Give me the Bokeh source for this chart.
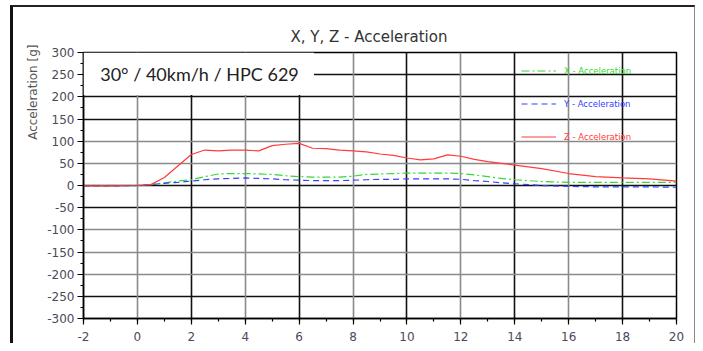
import math
from bokeh.plotting import figure
from bokeh.models import (ColumnDataSource, SingleIntervalTicker, FixedTicker, Grid,
                          Legend, LegendItem, Label, BoxAnnotation, Title, PrintfTickFormatter)
from bokeh.embed import file_html
from bokeh.resources import INLINE

# ---- data ----
time_s = [-2, -1, 0, 0.5, 1, 1.5, 2, 2.5, 3, 3.5, 4, 4.5, 5, 5.5, 6, 6.5, 7, 7.5, 8,
          8.5, 9, 9.5, 10, 10.5, 11, 11.5, 12, 12.5, 13, 13.5, 14, 15, 16, 17, 18, 19, 20]
x_acc = [-1, -1, 0, 2, 6, 10, 13, 20, 26, 27, 27, 26, 25, 22, 20, 19, 19, 19, 21,
         25, 26, 27, 28, 28, 28, 28, 27, 24, 20, 16, 13, 9, 7, 7, 7, 7, 7]
y_acc = [-1, -1, 0, 2, 5, 7, 10, 13, 15, 16, 17, 16, 15, 13, 12, 11, 11, 11, 12,
         13, 14, 14, 15, 15, 15, 15, 14, 11, 9, 6, 4, 0, -2, -3, -3, -3, -4]
z_acc = [-1, -1, 0, 2, 18, 44, 70, 80, 78, 80, 80, 78, 90, 93, 95, 84, 83, 80, 78,
         76, 71, 68, 62, 58, 60, 69, 66, 59, 54, 50, 46, 38, 27, 20, 17, 15, 10]

series_names = ["X - Acceleration", "Y - Acceleration", "Z - Acceleration"]
series_colors = ["#35d835", "#3340ff", "#ff3b3b"]
title_text = "X, Y, Z - Acceleration"
y_label_text = "Acceleration [g]"
note_text = "30° / 40km/h / HPC 629"

black_x_grid = [2, 6, 10, 14, 18]
grey_x_grid = [0, 4, 8, 12, 16]
black_y_grid = [250, 200, 150, 0, -50, -250]
grey_y_grid = [100, 50, -100, -150, -200]

src = ColumnDataSource(dict(t=time_s, x=x_acc, y=y_acc, z=z_acc))

p = figure(width=685, height=338, x_range=(-2, 20), y_range=(-300, 300),
           output_backend="svg", toolbar_location=None,
           min_border_left=70, min_border_right=22, min_border_top=45, min_border_bottom=27)
p.styles = {"margin-left": "10px", "margin-top": "5px",
            "border-left": "3px solid #111", "border-top": "2px solid #222",
            "border-right": "1px solid #888"}
p.background_fill_color = "white"
p.border_fill_color = "white"
p.outline_line_color = "black"
p.outline_line_width = 1.5

# title (top)
p.title.text = title_text
p.title.align = "left"
p.title.offset = 207
p.title.text_font = "DejaVu Sans"
p.title.text_font_size = "15px"
p.title.text_font_style = "normal"
p.title.text_color = "#333"
p.title.standoff = 13

# axes
label_color = "#4a4a58"
for ax in (p.xaxis[0], p.yaxis[0]):
    ax.axis_line_color = "black"
    ax.axis_line_width = 1.5
    ax.major_tick_line_color = "black"
    ax.minor_tick_line_color = "black"
    ax.major_tick_out = 6
    ax.major_tick_in = 0
    ax.minor_tick_out = 3
    ax.minor_tick_in = 0
    ax.major_tick_line_width = 1.2
    ax.minor_tick_line_width = 1.2
    ax.major_label_text_font = "DejaVu Sans"
    ax.major_label_text_font_size = "12px"
    ax.major_label_text_color = label_color
    ax.formatter = PrintfTickFormatter(format="%d")
p.xaxis[0].major_label_standoff = 7
p.yaxis[0].major_label_standoff = 3
p.xaxis[0].ticker = SingleIntervalTicker(interval=2, num_minor_ticks=2)
p.yaxis[0].ticker = SingleIntervalTicker(interval=50, num_minor_ticks=2)

# y label as a side title placed toward the top
p.add_layout(Title(text=y_label_text, align="right", offset=-8,
                   text_font="DejaVu Sans", text_font_size="12px",
                   text_font_style="normal", text_color="#555", standoff=10), "left")

# grids
p.xgrid[0].ticker = FixedTicker(ticks=black_x_grid)
p.ygrid[0].ticker = FixedTicker(ticks=black_y_grid)
for g in (p.xgrid[0], p.ygrid[0]):
    g.grid_line_color = "#111111"
    g.grid_line_width = 1.6
p.add_layout(Grid(dimension=0, ticker=FixedTicker(ticks=grey_x_grid),
                  grid_line_color="#8a8a8a", grid_line_width=1.6))
p.add_layout(Grid(dimension=1, ticker=FixedTicker(ticks=grey_y_grid),
                  grid_line_color="#8a8a8a", grid_line_width=1.6))

# lines
rx = p.line("t", "x", source=src, color=series_colors[0], line_width=1.2, line_dash="8 3 2 3")
ry = p.line("t", "y", source=src, color=series_colors[1], line_width=1.2, line_dash="6 4")
rz = p.line("t", "z", source=src, color=series_colors[2], line_width=1.2)

for i, (r, name, col) in enumerate(zip([rx, ry, rz], series_names, series_colors)):
    lg = Legend(items=[LegendItem(label=name, renderers=[r])],
                location=(433, 236 - i * 33), background_fill_alpha=0, border_line_alpha=0,
                glyph_width=35, glyph_height=13, label_height=13,
                padding=5, label_standoff=8, label_text_font="DejaVu Sans",
                label_text_font_size="8.5px", label_text_color=col)
    p.add_layout(lg)

# white box behind the note
p.add_layout(BoxAnnotation(left=-2, right=6.55, top=300, bottom=204,
                           fill_color="white", fill_alpha=1, line_alpha=0))
p.add_layout(Label(x=-1.38, y=252, text=note_text, text_font="Lato",
                   text_font_size="18px", text_color="#222", text_baseline="middle"))

open("out.html", "w").write(file_html(p, INLINE))
